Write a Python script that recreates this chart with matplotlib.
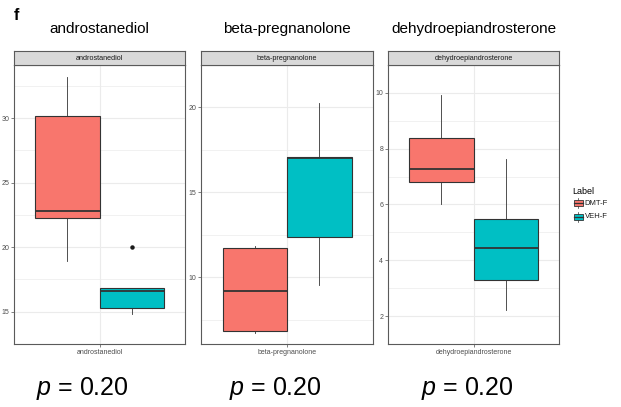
import matplotlib
matplotlib.use("Agg")
import matplotlib.pyplot as plt
import numpy as np
from matplotlib.patches import Rectangle

plt.rcParams['font.family'] = ['Liberation Sans', 'DejaVu Sans']
plt.rcParams['mathtext.fontset'] = 'custom'
plt.rcParams['mathtext.it'] = 'Liberation Sans:italic'
plt.rcParams['mathtext.rm'] = 'Liberation Sans'

compounds = ["androstanediol", "beta-pregnanolone", "dehydroepiandrosterone"]
groups = ["DMT-F", "VEH-F"]
colors = ["#F8766D", "#00BFC4"]

# box statistics: [whislo, q1, med, q3, whishi]
dmt_stats = [
    [18.93, 22.25, 22.83, 30.2, 33.2],
    [6.75, 6.85, 9.18, 11.74, 11.85],
    [6.01, 6.79, 7.28, 8.38, 9.94],
]
veh_stats = [
    [14.85, 15.3, 16.6, 16.81, 16.81],
    [9.57, 12.36, 17.04, 17.1, 20.27],
    [2.21, 3.31, 4.45, 5.47, 7.62],
]
dmt_fliers = [[], [], []]
veh_fliers = [[20.0], [], []]
major_ticks = [[15, 20, 25, 30], [10, 15, 20], [2, 4, 6, 8, 10]]
p_values = ["0.20", "0.20", "0.20"]

W, H = 621, 407
fig = plt.figure(figsize=(W / 100, H / 100), dpi=100)

panel_x = [(14, 185), (201, 373), (388, 559)]
p_x = [82.5, 275, 467]
top, bottom, strip_top = 65, 344, 51
grid_col = "#EBEBEB"
border_col = "#5A5A5A"
tick_col = "#4D4D4D"

def fx(px):
    return px / W

def fy(py):
    return 1 - py / H

for i, name in enumerate(compounds):
    x0, x1 = panel_x[i]
    ax = fig.add_axes([fx(x0), fy(bottom), fx(x1 - x0), (bottom - top) / H])
    stats = []
    for st, fl in ((dmt_stats[i], dmt_fliers[i]), (veh_stats[i], veh_fliers[i])):
        stats.append(dict(whislo=st[0], q1=st[1], med=st[2], q3=st[3], whishi=st[4], fliers=fl))
    bp = ax.bxp(stats, positions=[0.775, 1.225], widths=0.45, patch_artist=True,
                showcaps=False, manage_ticks=False,
                boxprops=dict(edgecolor="#333333", linewidth=0.8),
                medianprops=dict(color="#333333", linewidth=1.3),
                whiskerprops=dict(color="#333333", linewidth=0.6),
                flierprops=dict(marker="o", markerfacecolor="#1A1A1A", markeredgecolor="#1A1A1A",
                                markersize=2.2, linestyle="none"))
    for patch, c in zip(bp["boxes"], colors):
        patch.set_facecolor(c)
        patch.set_zorder(3)
    for m in bp["medians"]:
        m.set_zorder(4)
    allv = [v for st in (dmt_stats[i], veh_stats[i]) for v in st] + dmt_fliers[i] + veh_fliers[i]
    lo, hi = min(allv), max(allv)
    pad = (hi - lo) * 0.05
    ax.set_ylim(lo - pad, hi + pad)
    ax.set_xlim(0.4, 1.6)
    mt = major_ticks[i]
    ax.set_yticks(mt)
    ax.set_yticklabels([str(t) for t in mt])
    step = mt[1] - mt[0]
    minors = [t + step / 2 for t in [mt[0] - step] + mt]
    ax.set_yticks(minors, minor=True)
    ax.set_xticks([1.0])
    ax.set_xticklabels([name])
    ax.grid(True, which="major", color=grid_col, linewidth=0.8, zorder=0)
    ax.grid(True, which="minor", axis="y", color=grid_col, linewidth=0.5, zorder=0)
    ax.set_axisbelow(True)
    ax.tick_params(axis="both", which="major", labelsize=5, colors=tick_col, length=2, width=0.5, pad=1.5)
    ax.tick_params(axis="y", which="minor", length=0)
    for s in ax.spines.values():
        s.set_color(border_col)
        s.set_linewidth(0.8)
    # strip
    sax = fig.add_axes([fx(x0), fy(top), fx(x1 - x0), (top - strip_top) / H])
    sax.set_facecolor("#D9D9D9")
    sax.set_xticks([])
    sax.set_yticks([])
    for s in sax.spines.values():
        s.set_color(border_col)
        s.set_linewidth(0.8)
    sax.text(0.5, 0.5, name, ha="center", va="center", fontsize=5.2, color="#1A1A1A",
             transform=sax.transAxes)
    # panel title
    cx = (x0 + x1) / 2
    fig.text(fx(cx), fy(33.3), name, ha="center", va="baseline", fontsize=11, color="black")
    # p-value
    fig.text(fx(p_x[i]), fy(395), "$p$ = " + p_values[i], ha="center", va="baseline",
             fontsize=18, color="black")

fig.text(fx(14), fy(20), "f", ha="left", va="baseline", fontsize=11.5, fontweight="bold")

# legend (pixel coordinates)
fig.text(fx(572), fy(194), "Label", ha="left", va="baseline", fontsize=6.5, color="black")
lax = fig.add_axes([fx(570), fy(225), fx(45), 30 / H])
lax.set_xlim(570, 615)
lax.set_ylim(225, 195)
lax.axis("off")
for k, (g, c) in enumerate(zip(groups, colors)):
    yc = 203.5 + k * 13.5
    lax.plot([578, 578], [yc - 5, yc + 5], color="#333333", linewidth=0.5)
    lax.add_patch(Rectangle((573.5, yc - 3), 9, 6, facecolor=c, edgecolor="#333333",
                            linewidth=0.6, zorder=3))
    lax.plot([573.5, 582.5], [yc, yc], color="#333333", linewidth=0.9, zorder=4)
    lax.text(584.5, yc, g, ha="left", va="center", fontsize=5.5, color="#1A1A1A")

fig.savefig("out.png", dpi=100)
